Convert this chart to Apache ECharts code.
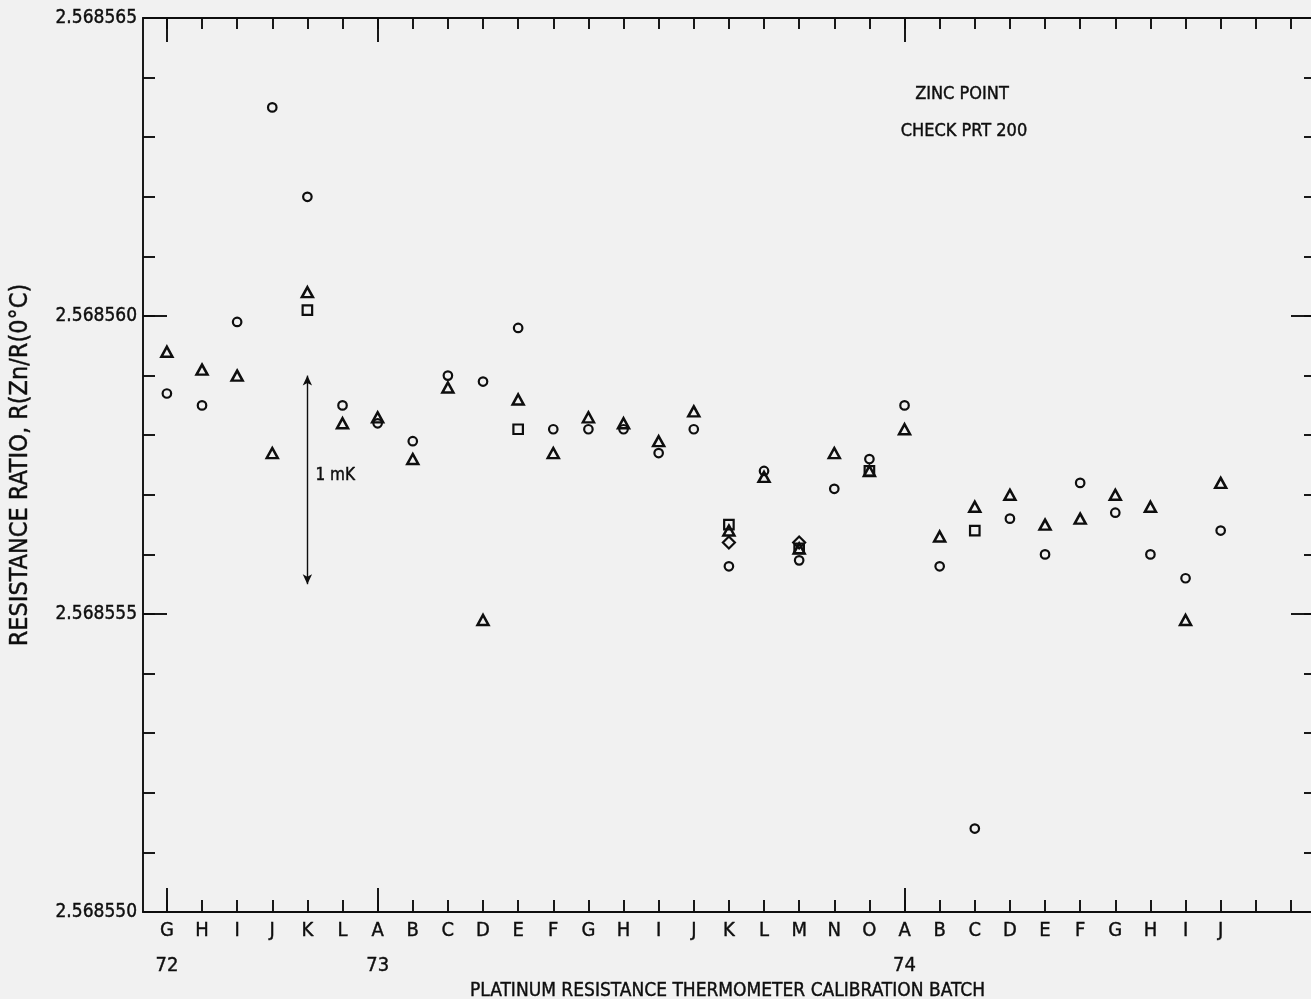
<!DOCTYPE html>
<html>
<head>
<meta charset="utf-8">
<script src="https://cdn.jsdelivr.net/npm/echarts@6/dist/echarts.min.js"></script>
<style>
  html, body { margin: 0; padding: 0; background: #f1f1f1; }
  #chart { width: 1311px; height: 999px; }
</style>
</head>
<body>
<div id="chart"></div>
<script>
// Calibration batches, in run order (index 0 = batch G of 1972)
const batchLetters = ['G','H','I','J','K','L','A','B','C','D','E','F','G','H','I','J',
                      'K','L','M','N','O','A','B','C','D','E','F','G','H','I','J'];
// First batch of each year and the year captions
const yearStarts = [0, 6, 21];
const yearLabels = ['72', '73', '74'];
// Tick marks continue past the last batch
const tickPositions = Array.from({ length: 33 }, (_, i) => i);
const labelPositions = batchLetters.map((_, i) => i);

// Resistance ratio R(Zn)/R(0 °C) per batch, one value per batch and symbol
const circleValues = [
  2.5685587, 2.5685585, 2.5685599, 2.5685635, 2.5685620, 2.5685585, 2.5685582, 2.5685579,
  2.5685590, 2.5685589, 2.5685598, 2.5685581, 2.5685581, 2.5685581, 2.5685577, 2.5685581,
  2.5685558, 2.5685574, 2.5685559, 2.5685571, 2.5685576, 2.5685585, 2.5685558, 2.5685514,
  2.5685566, 2.5685560, 2.5685572, 2.5685567, 2.5685560, 2.5685556, 2.5685564
];
const triangleValues = [
  2.5685594, 2.5685591, 2.5685590, 2.5685577, 2.5685604, 2.5685582, 2.5685583, 2.5685576,
  2.5685588, 2.5685549, 2.5685586, 2.5685577, 2.5685583, 2.5685582, 2.5685579, 2.5685584,
  2.5685564, 2.5685573, 2.5685561, 2.5685577, 2.5685574, 2.5685581, 2.5685563, 2.5685568,
  2.5685570, 2.5685565, 2.5685566, 2.5685570, 2.5685568, 2.5685549, 2.5685572
];
// [batch index, ratio]
const squarePoints = [
  [4, 2.5685601], [10, 2.5685581], [16, 2.5685565], [18, 2.5685561], [20, 2.5685574], [23, 2.5685564]
];
const diamondPoints = [
  [16, 2.5685562], [18, 2.5685562]
];

// Value axis range and tick spacing
const yMin = 2.568550;
const yMax = 2.568565;
const yMinorStep = 0.000001;
const yMajorStep = 0.000005;

// Size of 1 mK expressed as a ratio span, drawn at batch K (1972)
const mkArrowBatch = 4;
const mkArrowTop = 2.5685590;
const mkArrowBottom = 2.5685555;

const INK = '#0e0e0e';
const FONT = "'Liberation Sans Narrow', 'DejaVu Sans Condensed', 'Arial Narrow', sans-serif";
const X_MIN = -0.68, X_MAX = 32.6;

const chart = echarts.init(document.getElementById('chart'), null, { renderer: 'canvas' });

const lineStyle = { color: INK, width: 1.9 };
const markerStyle = { color: 'rgba(0,0,0,0)', borderColor: INK, borderWidth: 2.2, opacity: 1 };
// Slight outline thickens the letters a little without widening them
const ink = (size, extra) => Object.assign({
  color: INK, fontSize: size, fontFamily: FONT, textBorderColor: INK, textBorderWidth: 0.4
}, extra || {});

function xAxisDef(position, tickLen, ticks, withLine, label) {
  return {
    type: 'value', position, min: X_MIN, max: X_MAX,
    axisLine: { show: withLine, onZero: false, lineStyle },
    axisTick: { show: true, inside: true, length: tickLen, customValues: ticks, lineStyle },
    axisLabel: label || { show: false },
    splitLine: { show: false }
  };
}
function yAxisDef(position, tickLen, step, withLine, label) {
  return {
    type: 'value', position, min: yMin, max: yMax, interval: step,
    axisLine: { show: withLine, onZero: false, lineStyle },
    axisTick: { show: true, inside: true, length: tickLen, lineStyle },
    axisLabel: label || { show: false },
    splitLine: { show: false }
  };
}

const option = {
  backgroundColor: '#f1f1f1',
  animation: false,
  textStyle: { fontFamily: FONT },
  grid: { left: 143, top: 18, width: 1169, height: 894, containLabel: false, outerBoundsMode: 'none' },
  xAxis: [
    Object.assign(xAxisDef('bottom', 12, tickPositions, true, ink(20, {
      show: true, customValues: labelPositions, margin: 9,
      formatter: v => batchLetters[Math.round(v)]
    })), {
      name: 'PLATINUM RESISTANCE THERMOMETER CALIBRATION BATCH',
      nameLocation: 'middle', nameGap: 70,
      nameTextStyle: ink(19)
    }),
    xAxisDef('bottom', 24, yearStarts, false, ink(20, {
      show: true, customValues: yearStarts, margin: 44,
      formatter: v => yearLabels[yearStarts.indexOf(Math.round(v))]
    })),
    xAxisDef('top', 11, tickPositions, true),
    xAxisDef('top', 24, yearStarts, false)
  ],
  yAxis: [
    Object.assign(yAxisDef('left', 12, yMinorStep, true), {
      name: 'RESISTANCE RATIO, R(Zn/R(0°C)',
      nameLocation: 'middle', nameGap: 110, nameRotate: 90,
      nameTextStyle: ink(25)
    }),
    yAxisDef('left', 24, yMajorStep, false, ink(19, {
      show: true, margin: 6,
      formatter: v => v.toFixed(6)
    })),
    yAxisDef('right', 8, yMinorStep, false),
    yAxisDef('right', 21, yMajorStep, false)
  ],
  series: [
    {
      name: 'circle', type: 'scatter', symbol: 'circle', symbolSize: 8.5,
      itemStyle: markerStyle, silent: true,
      data: circleValues.map((v, i) => [i, v]),
      markLine: {
        silent: true, symbol: ['arrow', 'arrow'], symbolSize: [7, 10],
        lineStyle: { color: INK, width: 1.4, type: 'solid', opacity: 1 },
        itemStyle: { color: INK },
        label: { show: false },
        data: [[{ coord: [mkArrowBatch, mkArrowTop] }, { coord: [mkArrowBatch, mkArrowBottom] }]]
      }
    },
    {
      name: 'triangle', type: 'scatter', symbol: 'triangle', symbolSize: [11, 10],
      itemStyle: Object.assign({}, markerStyle, { borderWidth: 2.5 }), silent: true,
      data: triangleValues.map((v, i) => [i, v])
    },
    {
      name: 'square', type: 'scatter', symbol: 'rect', symbolSize: 9.5,
      itemStyle: markerStyle, silent: true,
      data: squarePoints
    },
    {
      name: 'diamond', type: 'scatter', symbol: 'diamond', symbolSize: 12,
      itemStyle: markerStyle, silent: true,
      data: diamondPoints
    }
  ]
};
chart.setOption(option);

// Annotations placed in data space
const mid = chart.convertToPixel({ xAxisIndex: 0, yAxisIndex: 0 },
  [mkArrowBatch, (mkArrowTop + mkArrowBottom) / 2]);
const noteStyle = (text, size, align) => ({
  text, font: size + 'px ' + FONT, fill: INK, stroke: INK, lineWidth: 0.4,
  align, verticalAlign: 'middle'
});
chart.setOption({
  graphic: [
    { type: 'text', x: 962, y: 94, style: noteStyle('ZINC POINT', 18, 'center') },
    { type: 'text', x: 964, y: 131, style: noteStyle('CHECK PRT 200', 18, 'center') },
    { type: 'text', x: mid[0] + 8, y: 476, style: noteStyle('1 mK', 17, 'left') }
  ]
});
</script>
</body>
</html>
